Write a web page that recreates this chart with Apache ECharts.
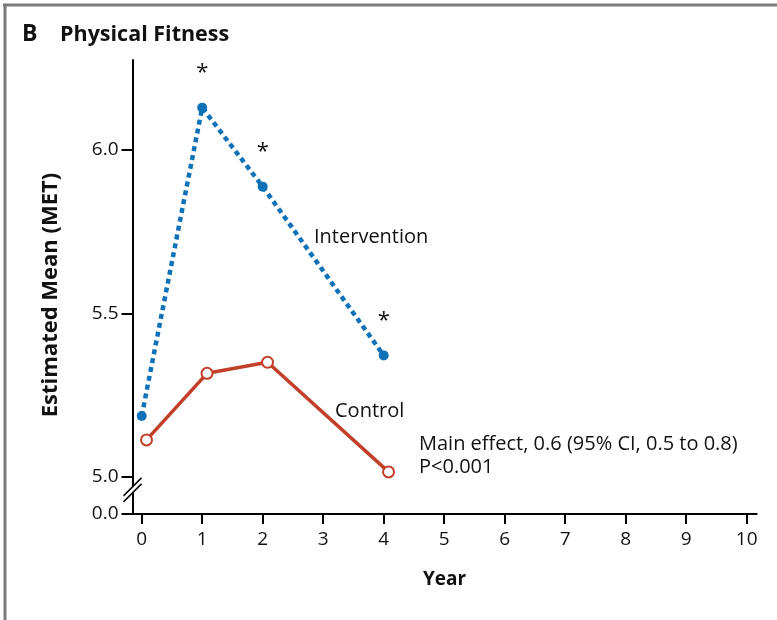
<!DOCTYPE html>
<html>
<head>
<meta charset="utf-8">
<script src="https://cdn.jsdelivr.net/npm/echarts@6/dist/echarts.min.js"></script>
<style>
html,body{margin:0;padding:0;background:#fff;}
#chart{width:777px;height:620px;}
</style>
</head>
<body>
<div id="chart"></div>
<script>
// ---- data ----
const years = [0, 1, 2, 4];
const interventionMean = [5.185, 6.130, 5.888, 5.371];
const significant = [false, true, true, true];
const controlYears = [0.08, 1.08, 2.08, 4.08]; // plotted slightly offset in the original
const controlMean = [5.112, 5.316, 5.350, 5.014];
const xTickValues = [0, 1, 2, 3, 4, 5, 6, 7, 8, 9, 10];
const yTickValues = [5.0, 5.5, 6.0];
const yBreakLabel = '0.0';

const FONT = '"Open Sans"';
const BLUE = '#0f72b8';
const RED = '#c23f2a';
const Y_MIN = 4.885, Y_MAX = 6.276;
const X_MIN = -0.152, X_MAX = 10.165;

const chart = echarts.init(document.getElementById('chart'), null, {renderer: 'canvas'});

const yTicksAll = [Y_MIN].concat(yTickValues);

const option = {
  animation: false,
  backgroundColor: '#fff',
  textStyle: {fontFamily: FONT},
  grid: {left: 132.5, top: 60, right: 20.3, bottom: 106, containLabel: false},
  xAxis: {
    type: 'value', min: X_MIN, max: X_MAX,
    name: 'Year', nameLocation: 'middle', nameGap: 56,
    nameTextStyle: {fontFamily: FONT, fontWeight: 'bold', fontSize: 19, color: '#111'},
    axisLine: {show: true, onZero: false, lineStyle: {color: '#000', width: 2}},
    axisTick: {show: true, length: 10, customValues: xTickValues, lineStyle: {color: '#000', width: 2}},
    axisLabel: {customValues: xTickValues, fontSize: 19, color: '#111', margin: 16, fontFamily: FONT},
    splitLine: {show: false}
  },
  yAxis: {
    type: 'value', min: Y_MIN, max: Y_MAX,
    name: 'Estimated Mean (MET)', nameLocation: 'middle', nameGap: 71,
    nameTextStyle: {fontFamily: FONT, fontWeight: 'bold', fontSize: 22, color: '#111', padding: [0, 16, 0, 0]},
    axisLine: {show: true, onZero: false, lineStyle: {color: '#000', width: 2}},
    axisTick: {show: true, length: 11, customValues: yTicksAll, lineStyle: {color: '#000', width: 2}},
    axisLabel: {
      customValues: yTicksAll, fontSize: 19, color: '#111', margin: 14, fontFamily: FONT,
      formatter: v => (v < 4.95 ? yBreakLabel : v.toFixed(1))
    },
    splitLine: {show: false}
  },
  series: [
    {
      name: 'Intervention', type: 'line',
      data: years.map((y, i) => [y, interventionMean[i]]),
      symbol: 'circle', symbolSize: 10,
      itemStyle: {color: BLUE},
      lineStyle: {color: BLUE, width: 4.5, type: [5, 4], cap: 'butt'},
      label: {
        show: true, position: 'top', distance: 19, fontSize: 22, color: '#111', fontFamily: FONT,
        formatter: p => (significant[p.dataIndex] ? '*' : '')
      },
      z: 3
    },
    {
      name: 'Control', type: 'line',
      data: controlYears.map((y, i) => [y, controlMean[i]]),
      symbol: 'circle', symbolSize: 11, showSymbol: true,
      itemStyle: {color: '#fff', borderColor: RED, borderWidth: 2},
      lineStyle: {color: RED, width: 3.5},
      z: 2
    }
  ]
};
chart.setOption(option);

// Decorations: frame, title, annotations, axis break
const yb = chart.convertToPixel({yAxisIndex: 0}, 4.959);
const xb = chart.convertToPixel({xAxisIndex: 0}, X_MIN);
const d = 9, off = 3;
chart.setOption({
  graphic: [
    {type: 'line', shape: {x1: 3, y1: 5, x2: 777, y2: 5}, style: {stroke: '#7a7a7a', lineWidth: 3}},
    {type: 'line', shape: {x1: 5, y1: 4, x2: 5, y2: 620}, style: {stroke: '#7a7a7a', lineWidth: 3}},
    {type: 'text', left: 22, top: 23, style: {text: 'B', font: 'bold 23px ' + FONT, fill: '#111'}},
    {type: 'text', left: 60, top: 24, style: {text: 'Physical Fitness', font: 'bold 21.5px ' + FONT, fill: '#111'}},
    {type: 'text', left: 314, top: 227, style: {text: 'Intervention', font: '20px ' + FONT, fill: '#111'}},
    {type: 'text', left: 335, top: 401, style: {text: 'Control', font: '20px ' + FONT, fill: '#111'}},
    {type: 'text', left: 419, top: 433, style: {text: 'Main effect, 0.6 (95% CI, 0.5 to 0.8)\nP<0.001', font: '20px ' + FONT, fill: '#111', lineHeight: 23}},
    {type: 'polygon', z: 100, shape: {points: [[xb - d, yb - off + d], [xb + d, yb - off - d], [xb + d, yb + off - d], [xb - d, yb + off + d]]}, style: {fill: '#fff'}},
    {type: 'line', z: 101, shape: {x1: xb - d, y1: yb - off + d, x2: xb + d, y2: yb - off - d}, style: {stroke: '#000', lineWidth: 1.5}},
    {type: 'line', z: 101, shape: {x1: xb - d, y1: yb + off + d, x2: xb + d, y2: yb + off - d}, style: {stroke: '#000', lineWidth: 1.5}}
  ]
});
</script>
</body>
</html>
